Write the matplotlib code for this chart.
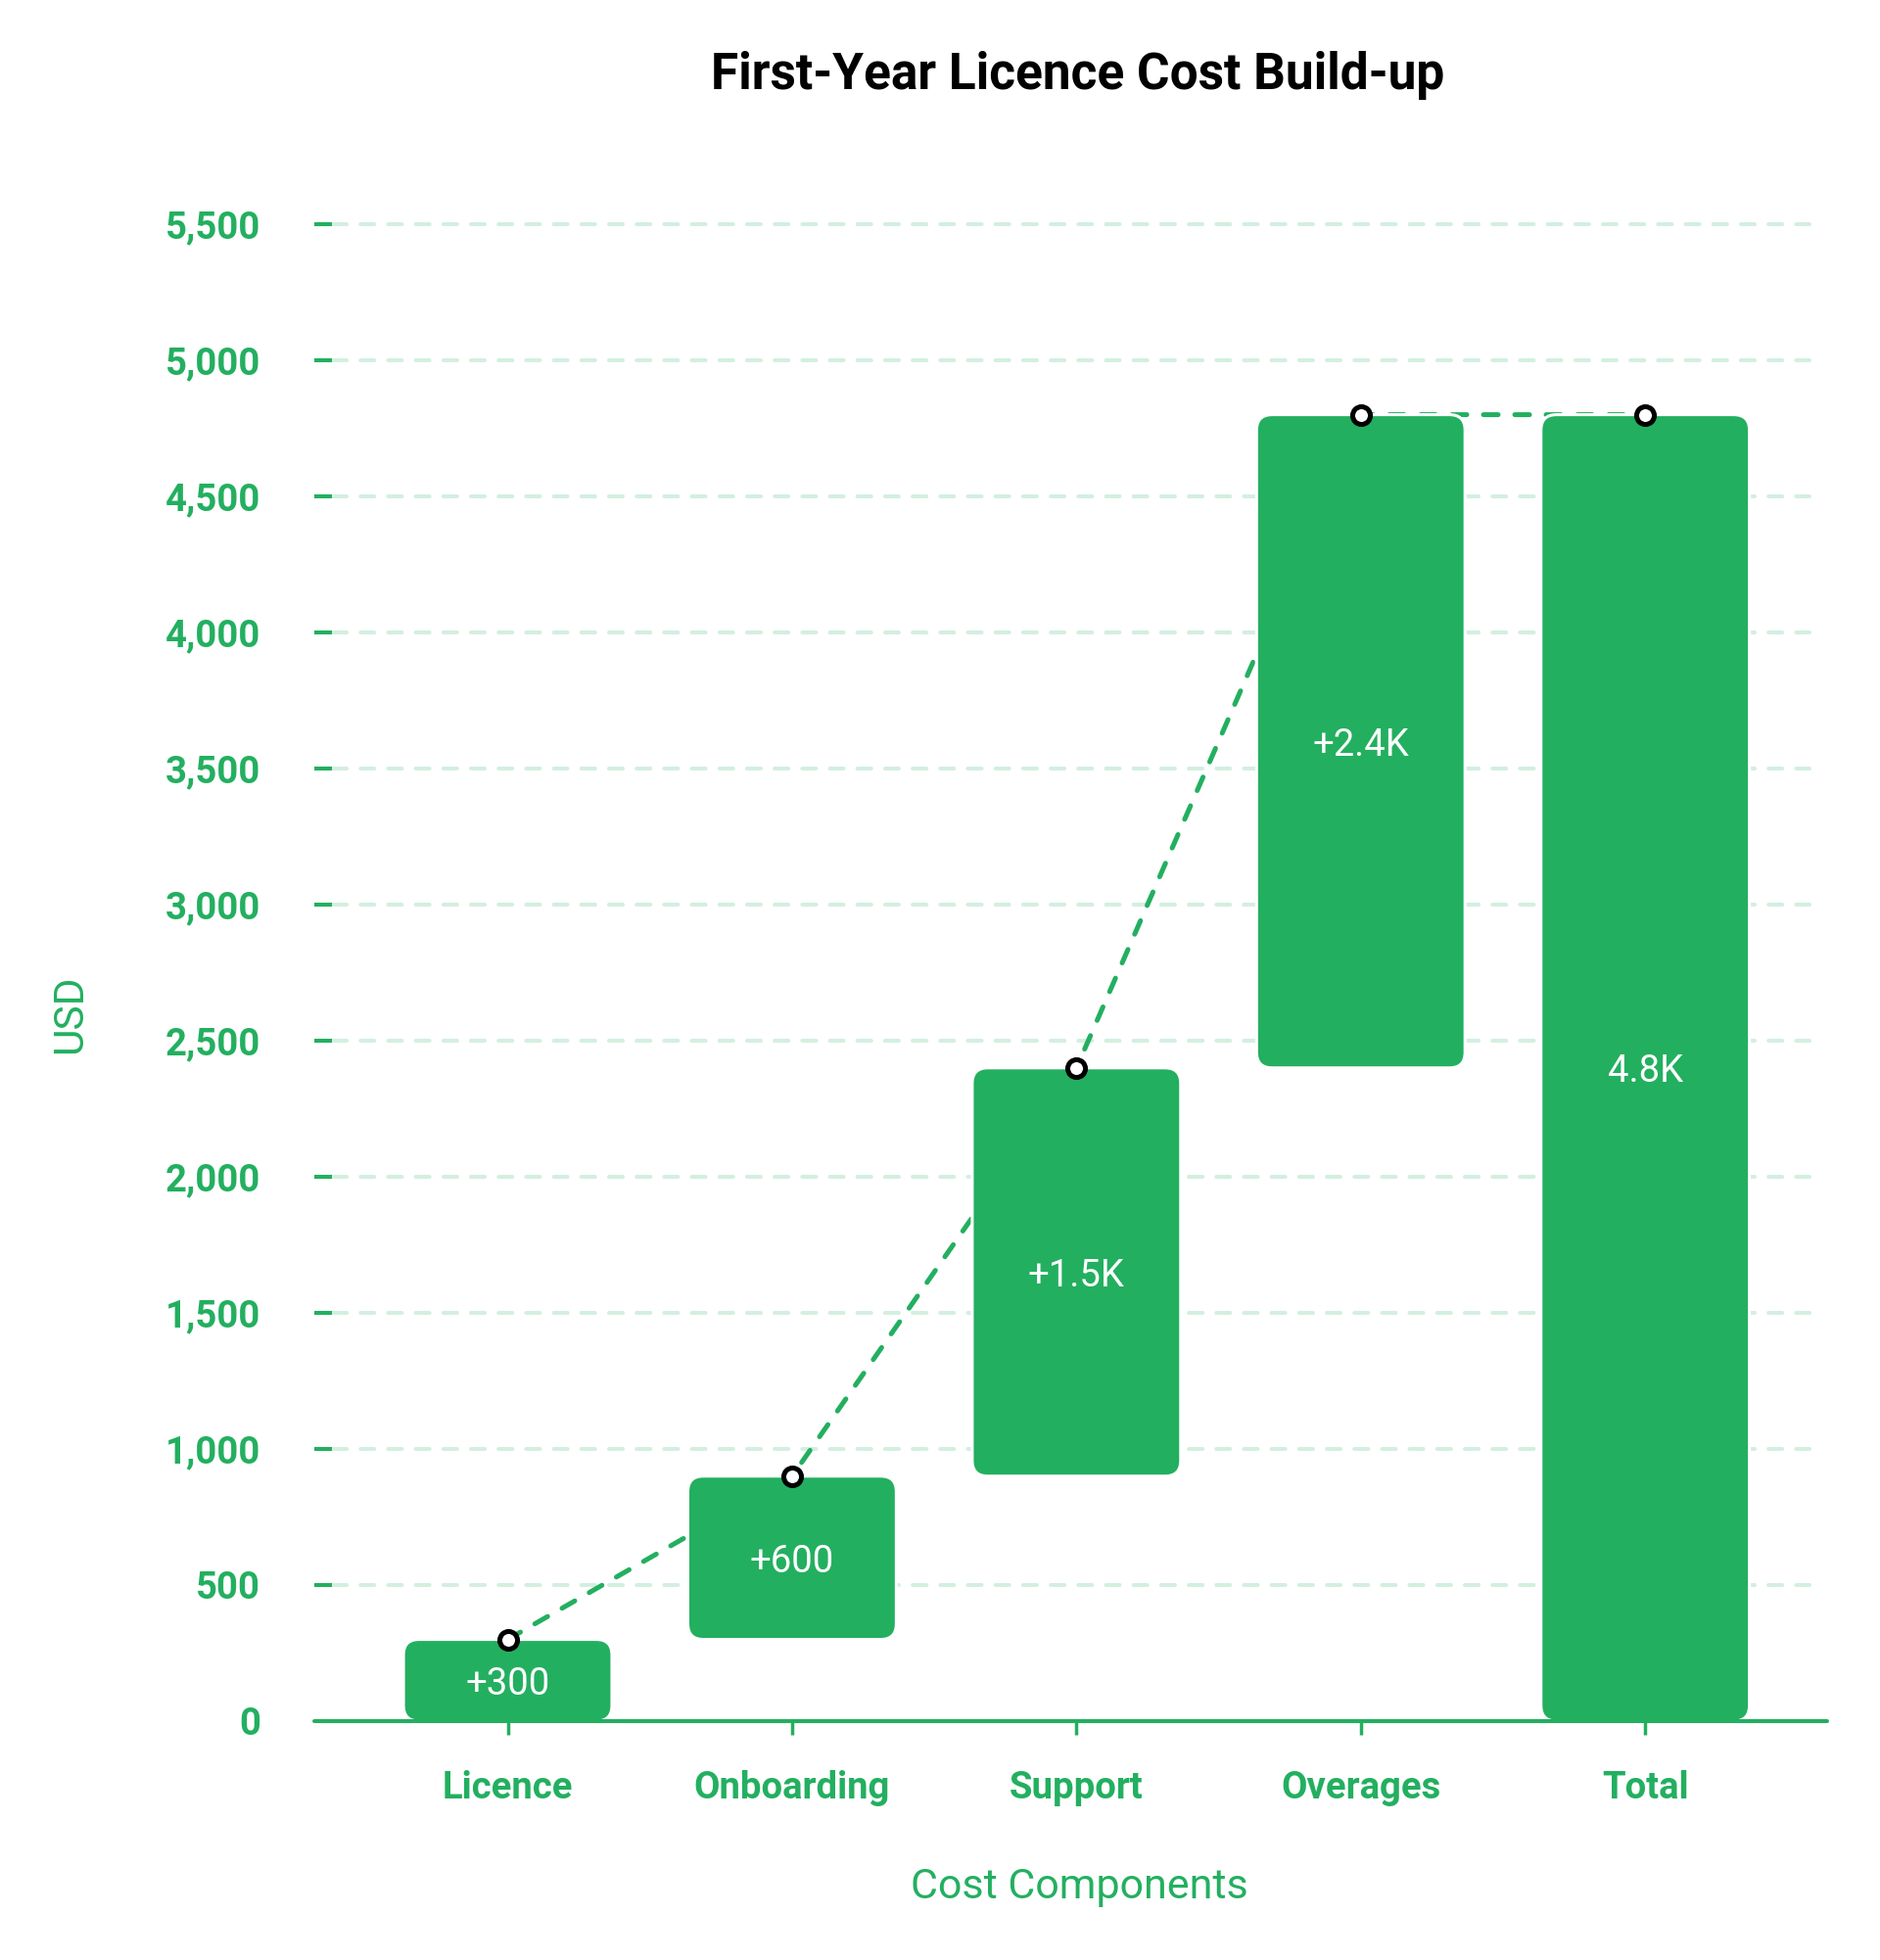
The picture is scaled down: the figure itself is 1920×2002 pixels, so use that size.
import matplotlib
matplotlib.use("Agg")
import matplotlib.pyplot as plt
from matplotlib.patches import FancyBboxPatch

plt.rcParams['font.family'] = ['Roboto', 'DejaVu Sans']

# data
categories = ["Licence", "Onboarding", "Support", "Overages", "Total"]
deltas = [300, 600, 1500, 2400]
y_ticks = [0, 500, 1000, 1500, 2000, 2500, 3000, 3500, 4000, 4500, 5000, 5500]

green = "#23AF60"
light_green = "#D3EFDF"


def fmt(v, sign=True):
    s = f"{v / 1000:.1f}K" if v >= 1000 else f"{v}"
    return ("+" + s) if sign else s


# cumulative steps
bottoms, tops = [], []
run = 0
for d in deltas:
    bottoms.append(run)
    run += d
    tops.append(run)
total = run
bottoms.append(0)
tops.append(total)
labels = [fmt(d) for d in deltas] + [fmt(total, sign=False)]

fig = plt.figure(figsize=(19.2, 20.02), dpi=100)
ax = fig.add_axes([0.1672, 0.1219, 0.8047, 0.7915])
ax.set_xlim(-0.68, 4.64)
ax.set_ylim(0, 5700)

# gridlines
for t in y_ticks[1:]:
    ax.axhline(t, xmin=0.012, xmax=0.988, color=light_green, lw=2.9,
               linestyle=(0, (3.5, 3.5)), dash_capstyle='round', zorder=0)

# connectors (behind bars)
xs = list(range(len(categories)))
ax.plot(xs, tops, color=green, lw=3.6, linestyle=(0, (3.0, 3.4)),
        dash_capstyle='round', zorder=1)

# rounded bars
width = 0.733
rx = 0.055
aspect = 57 / rx
for i, (b, t) in enumerate(zip(bottoms, tops)):
    p = FancyBboxPatch((i - width / 2, b), width, t - b,
                       boxstyle=f"round,pad=0,rounding_size={rx}",
                       mutation_aspect=aspect, facecolor=green,
                       edgecolor="white", linewidth=2.2, zorder=2)
    ax.add_patch(p)
    ax.annotate(labels[i], (i, (b + t) / 2), xytext=(0, -3),
                textcoords='offset points', ha='center', va='center',
                color='white', fontsize=27.5, zorder=4)

# markers at the running total
ax.plot(xs, tops, linestyle='none', marker='o', ms=13, mfc='white',
        mec='black', mew=3.6, zorder=5, clip_on=False)

# axes styling
for s in ['top', 'right', 'left']:
    ax.spines[s].set_visible(False)
ax.spines['bottom'].set_color(green)
ax.spines['bottom'].set_linewidth(2.9)
ax.spines['bottom'].set_capstyle('round')
ax.spines['bottom'].set_zorder(3)

ax.set_yticks(y_ticks)
ax.set_yticklabels([f"{t:,}" for t in y_ticks])
ax.tick_params(axis='y', direction='in', length=13, width=2.9, color=green,
               pad=39.5, labelsize=27.5, labelcolor=green)
ax.set_xticks(xs)
ax.set_xticklabels(categories)
ax.tick_params(axis='x', direction='out', length=10, width=2.5, color=green,
               pad=26, labelsize=27.5, labelcolor=green)
for lab in ax.get_xticklabels() + ax.get_yticklabels():
    lab.set_fontweight('bold')

fig.text(72 / 1920, 1 - 1036 / 2002, "USD", rotation=90, ha='center',
         va='center', color=green, fontsize=30.5)
fig.text(1102 / 1920, 1 - 1927 / 2002, "Cost Components", ha='center',
         va='center', color=green, fontsize=31)
fig.text(1101 / 1920, 1 - 77 / 2002, "First-Year Licence Cost Build-up",
         ha='center', va='center', color='black', fontsize=37,
         fontweight='bold')

fig.savefig("out.png", dpi=100, facecolor='white')
